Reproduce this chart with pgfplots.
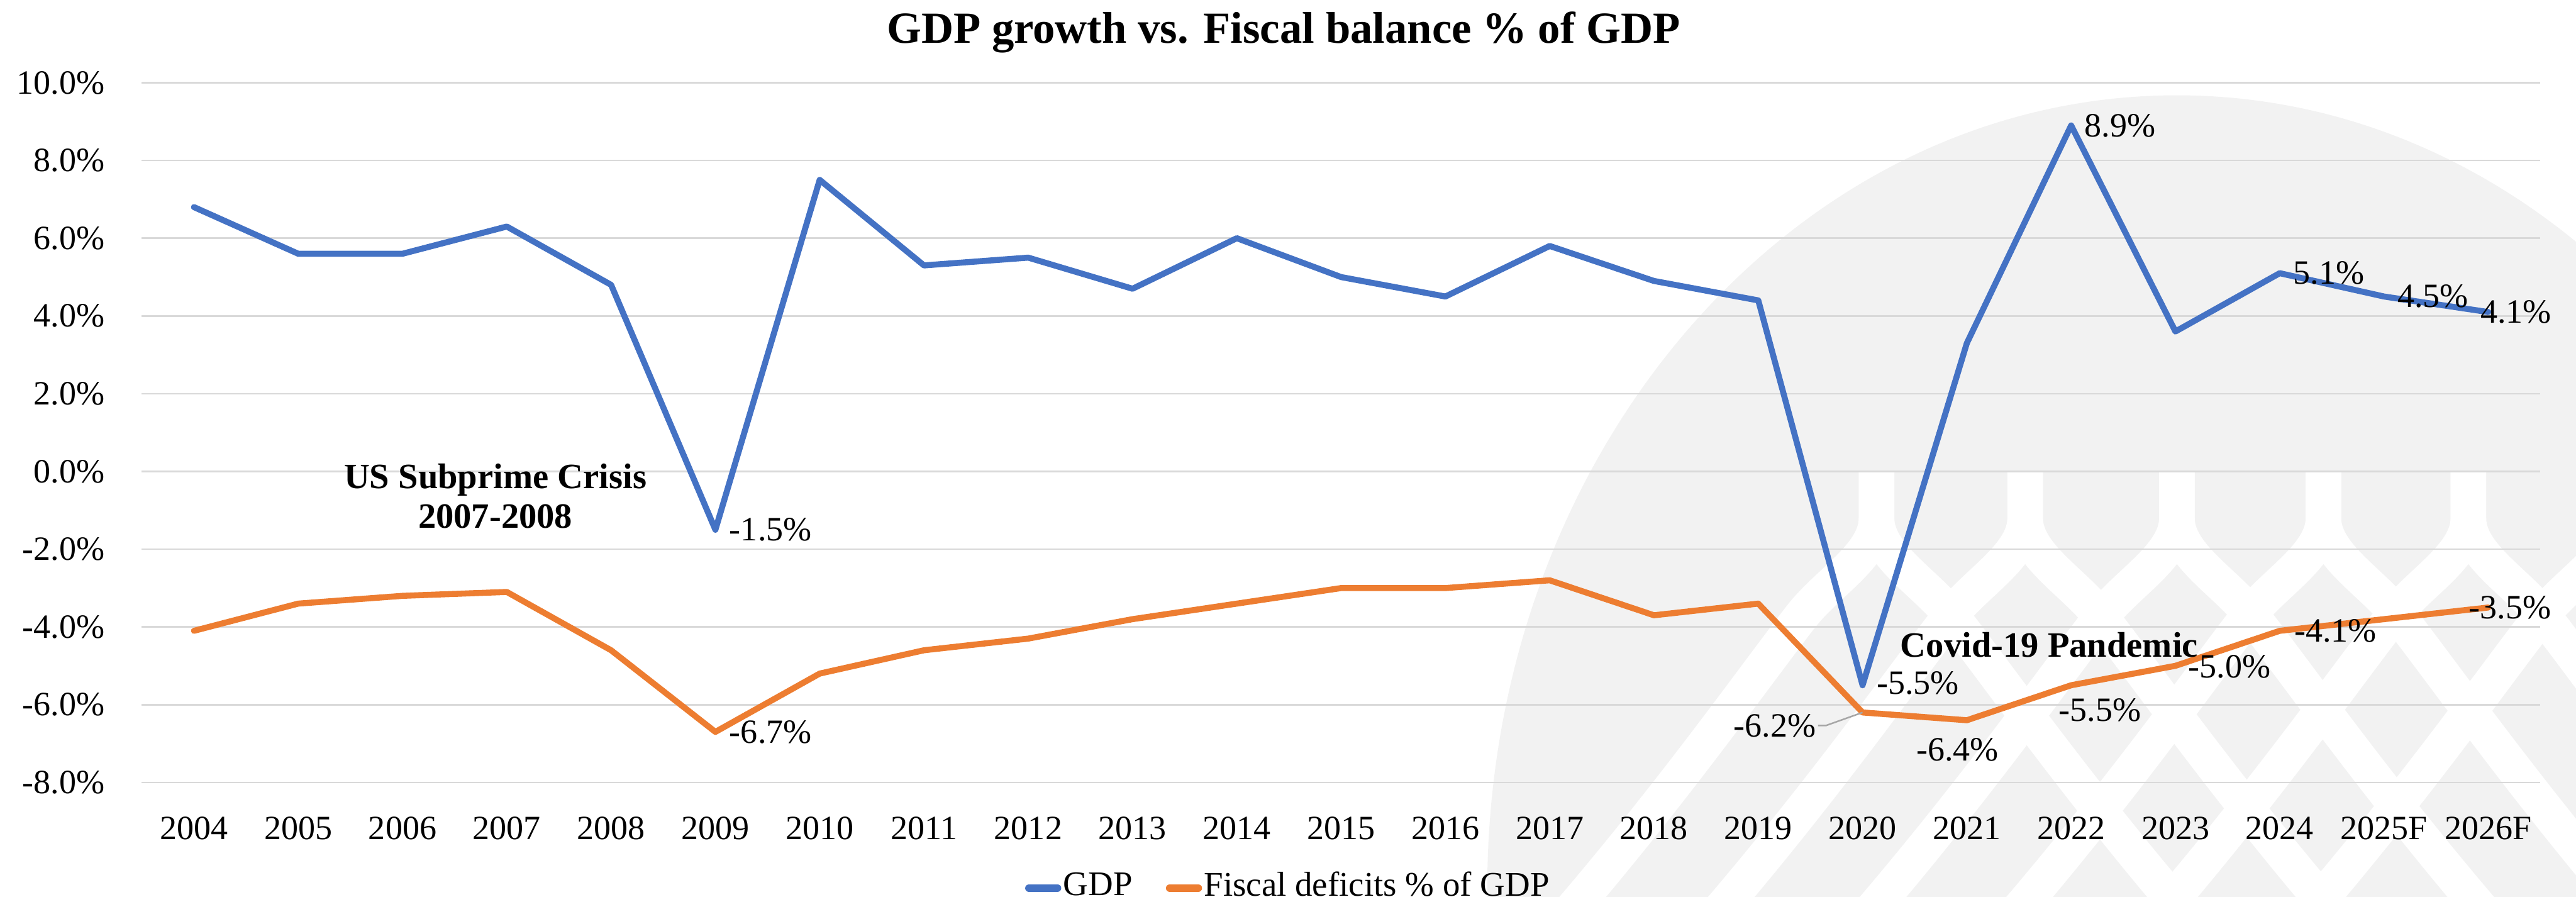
\documentclass[border=0pt]{standalone}
\usepackage{fontspec}
\setmainfont{Liberation Serif}
\usepackage{pgfplots}
\pgfplotsset{compat=1.18}
\definecolor{gdpblue}{HTML}{4472C4}
\definecolor{fisorange}{HTML}{ED7D31}
\definecolor{wm}{HTML}{F2F2F2}
\definecolor{gridc}{HTML}{D9D9D9}
\begin{document}
\begin{tikzpicture}
\path[use as bounding box] (0,0) rectangle (492.3pt,-171.3pt);
% background watermark
\begin{scope}[x=0.1pt,y=-0.1pt]
\clip (0,0) rectangle (4923,1713);
\fill[wm] (4160,1700) ellipse [x radius=131.8pt, y radius=151.8pt];
\begin{scope}
\clip (4160,1700) ellipse [x radius=131.8pt, y radius=151.8pt];
\foreach \xi in {3586,3870,4160,4440,4717,5000} {
  \draw[white, line width=6.8pt] (\xi,902) -- (\xi,990) .. controls (\xi,1060) and (\xi+90,1110) .. (\xi+142,1175) .. controls (\xi+240,1300) and (\xi+420,1560) .. (\xi+680,1850);
  \draw[white, line width=6.8pt] (\xi,902) -- (\xi,990) .. controls (\xi,1060) and (\xi-90,1110) .. (\xi-142,1175) .. controls (\xi-240,1300) and (\xi-420,1560) .. (\xi-680,1850);
}
\end{scope}
\end{scope}
\begin{axis}[
  at={(27.1pt,-149.5pt)}, anchor=south west,
  scale only axis, width=458.4pt, height=133.7pt,
  xmin=-0.5, xmax=22.5, ymin=-8, ymax=10,
  xtick={0,1,...,22},
  xticklabels={2004,2005,2006,2007,2008,2009,2010,2011,2012,2013,2014,2015,2016,2017,2018,2019,2020,2021,2022,2023,2024,2025F,2026F},
  ytick={-8,-6,-4,-2,0,2,4,6,8,10},
  yticklabels={-8.0\%,-6.0\%,-4.0\%,-2.0\%,0.0\%,2.0\%,4.0\%,6.0\%,8.0\%,10.0\%},
  axis line style={draw=none}, tick style={draw=none},
  ymajorgrids, grid style={gridc, line width=0.3pt},
  tick label style={font=\fontsize{6.5}{7}\selectfont, inner sep=0pt},
  xticklabel style={anchor=base, yshift=-10.9pt},
  yticklabel style={anchor=east, xshift=-6.9pt},
  legend style={at={(0.478,-0.151)}, anchor=center, draw=none, fill=none,
    legend columns=2, font=\fontsize{6.6}{7}\selectfont,
    /tikz/every even column/.append style={column sep=6pt},
    inner sep=0pt, nodes={inner sep=0.4pt}},
  legend image code/.code={\draw[#1, line width=1.5pt, line cap=round] (0pt,0pt) -- (5.4pt,0pt);},
  clip=false,
]
\addplot[gdpblue, line width=1.15pt, line join=round, line cap=round] coordinates {
(0,6.8) (1,5.6) (2,5.6) (3,6.3) (4,4.8) (5,-1.5) (6,7.5) (7,5.3) (8,5.5) (9,4.7) (10,6.0) (11,5.0)
(12,4.5) (13,5.8) (14,4.9) (15,4.4) (16,-5.5) (17,3.3) (18,8.9) (19,3.6) (20,5.1) (21,4.5) (22,4.1)};
\addlegendentry{GDP}
\addplot[fisorange, line width=1.15pt, line join=round, line cap=round] coordinates {
(0,-4.1) (1,-3.4) (2,-3.2) (3,-3.1) (4,-4.6) (5,-6.7) (6,-5.2) (7,-4.6) (8,-4.3) (9,-3.8) (10,-3.4) (11,-3.0)
(12,-3.0) (13,-2.8) (14,-3.7) (15,-3.4) (16,-6.2) (17,-6.4) (18,-5.5) (19,-5.0) (20,-4.1) (21,-3.8) (22,-3.5)};
\addlegendentry{Fiscal deficits \% of GDP}
\tikzset{lbl/.style={font=\fontsize{6.5}{7}\selectfont, inner sep=0pt}}
\node[lbl, anchor=west, xshift=2.5pt] at (axis cs:5,-1.5) {-1.5\%};
\node[lbl, anchor=west, xshift=2.5pt] at (axis cs:5,-6.7) {-6.7\%};
\node[lbl, anchor=west, xshift=2.5pt, yshift=0.4pt] at (axis cs:16,-5.5) {-5.5\%};
\node[lbl, anchor=east, xshift=-8.7pt, yshift=-2.6pt] (l62) at (axis cs:16,-6.2) {-6.2\%};
\draw[gray!70, line width=0.3pt] (axis cs:16,-6.2) -- ++(-7.0pt,-2.5pt) -- ++(-1.5pt,0pt);
\node[lbl, anchor=center, xshift=-1.8pt, yshift=-5.6pt] at (axis cs:17,-6.4) {-6.4\%};
\node[lbl, anchor=west, xshift=2.4pt] at (axis cs:18,8.9) {8.9\%};
\node[lbl, anchor=center, xshift=5.5pt, yshift=-4.7pt] at (axis cs:18,-5.5) {-5.5\%};
\node[lbl, anchor=west, xshift=2.3pt, yshift=-0.2pt] at (axis cs:19,-5.0) {-5.0\%};
\node[lbl, anchor=west, xshift=2.4pt] at (axis cs:20,5.1) {5.1\%};
\node[lbl, anchor=west, xshift=2.6pt] at (axis cs:20,-4.1) {-4.1\%};
\node[lbl, anchor=west, xshift=2.4pt] at (axis cs:21,4.5) {4.5\%};
\node[lbl, anchor=west, xshift=-1.7pt] at (axis cs:22,4.1) {4.1\%};
\node[lbl, anchor=west, xshift=-3.9pt] at (axis cs:22,-3.5) {-3.5\%};
\node[font=\bfseries\fontsize{6.8}{7.6}\selectfont, align=center, inner sep=0pt] at (axis cs:2.89,-0.64) {US Subprime Crisis\\2007-2008};
\node[font=\bfseries\fontsize{6.8}{7.6}\selectfont, inner sep=0pt] at (axis cs:17.79,-4.46) {Covid-19 Pandemic};
\end{axis}
\node[font=\bfseries\fontsize{8.5}{10}\selectfont, anchor=base, inner sep=0pt] at (245.3pt,-8.2pt) {GDP growth vs. Fiscal balance \% of GDP};
\end{tikzpicture}
\end{document}
